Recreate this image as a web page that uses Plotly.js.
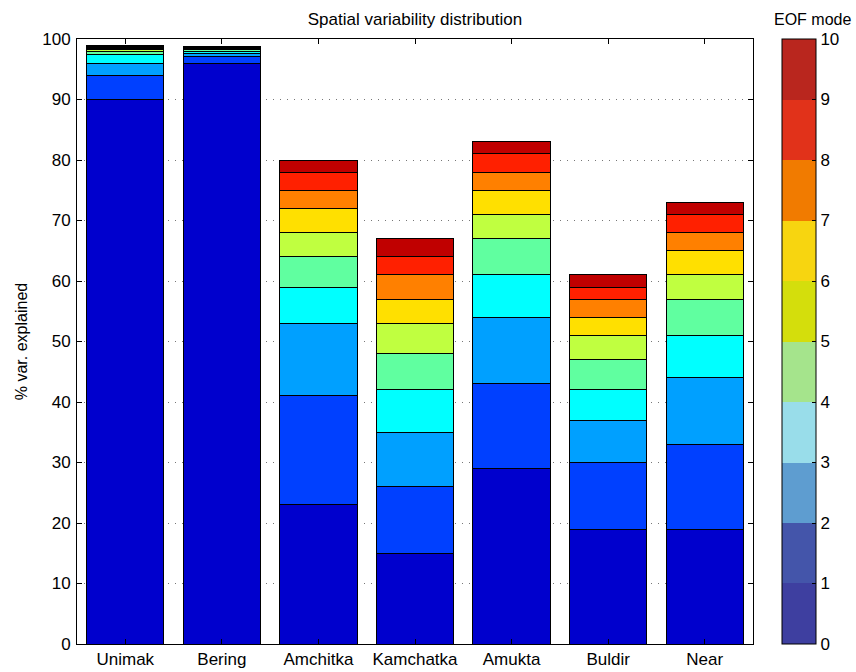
<!DOCTYPE html>
<html>
<head>
<meta charset="utf-8">
<script src="https://cdn.plot.ly/plotly-3.0.1.min.js"></script>
<style>html,body{margin:0;padding:0;background:#fff;}#chart{width:856px;height:672px;}</style>
</head>
<body>
<div id="chart"></div>
<script>
// Categories (regions)
const regions = ["Unimak", "Bering", "Amchitka", "Kamchatka", "Amukta", "Buldir", "Near"];

// Percent variance explained by each EOF mode (mode 1..10), per region
const mode1  = [90.0, 96.0, 23, 15, 29, 19, 19];
const mode2  = [4.0,  1.1, 18, 11, 14, 11, 14];
const mode3  = [2.0,  0.5, 12,  9, 11,  7, 11];
const mode4  = [1.5,  0.4,  6,  7,  7,  5,  7];
const mode5  = [0.4,  0.3,  5,  6,  6,  5,  6];
const mode6  = [0.3,  0.2,  4,  5,  4,  4,  4];
const mode7  = [0.2,  0.1,  4,  4,  4,  3,  4];
const mode8  = [0.2,  0.1,  3,  4,  3,  3,  3];
const mode9  = [0.1,  0.05, 3,  3,  3,  2,  3];
const mode10 = [0.3,  0.05, 2,  3,  2,  2,  2];
const modes = [mode1, mode2, mode3, mode4, mode5, mode6, mode7, mode8, mode9, mode10];

// Axis / colorbar tick labels
const yTicks = [0,10,20,30,40,50,60,70,80,90,100];
const cbTicks = [0,1,2,3,4,5,6,7,8,9,10];

// Styles
const barColors = ["rgb(0,0,205)","rgb(0,64,255)","rgb(0,160,255)","rgb(0,255,255)","rgb(96,255,160)",
                   "rgb(192,255,64)","rgb(255,224,0)","rgb(255,128,0)","rgb(255,32,0)","rgb(192,0,0)"];
const cbColors = ["#3e3fa0","#4455aa","#5e9dd0","#99ddea","#a5e48c",
                  "#d4de0c","#f7d510","#f17b00","#e1321a","#b9261e"];

const FONT = "Liberation Sans, Arial, Helvetica, sans-serif";
const FS = 17;

const traces = modes.map((vals, i) => ({
  type: "bar",
  x: regions,
  y: vals,
  name: "Mode " + (i + 1),
  marker: { color: barColors[i], line: { color: "#000", width: 1 } },
  width: 0.8,
  showlegend: false,
  hoverinfo: "x+y+name"
}));

// discrete colorscale for colorbar
const cs = [];
cbColors.forEach((c, i) => { cs.push([i / 10, c]); cs.push([(i + 1) / 10, c]); });

traces.push({
  type: "scatter",
  mode: "markers",
  x: [regions[0]],
  y: [null],
  showlegend: false,
  hoverinfo: "skip",
  marker: {
    color: [0],
    cmin: 0, cmax: 10,
    colorscale: cs,
    showscale: true,
    colorbar: {
      x: (782 - 77) / 676, xanchor: "left", xpad: 0,
      y: 0.5, yanchor: "middle", ypad: 0,
      len: 1, lenmode: "fraction",
      thickness: 34, thicknessmode: "pixels",
      outlinecolor: "#000", outlinewidth: 1,
      tickmode: "array", tickvals: cbTicks, ticktext: cbTicks.map(String),
      ticks: "inside", ticklen: 4, tickcolor: "#000",
      tickfont: { family: FONT, size: FS, color: "#000" }
    }
  }
});

const layout = {
  width: 856, height: 672,
  margin: { l: 77, r: 103, t: 39, b: 28, pad: 0 },
  paper_bgcolor: "#fff", plot_bgcolor: "#fff",
  barmode: "stack",
  font: { family: FONT, size: FS, color: "#000" },
  title: {
    text: "Spatial variability distribution",
    font: { family: FONT, size: FS, color: "#000" },
    x: (77 + 753) / 2 / 856, xanchor: "center",
    y: 1 - 19 / 672, yanchor: "middle"
  },
  xaxis: {
    type: "category",
    range: [-0.5, 6.5],
    showline: true, linecolor: "#000", linewidth: 1, mirror: "ticks",
    ticks: "inside", ticklen: 5, tickcolor: "#000",
    showgrid: false, zeroline: false,
    tickfont: { family: FONT, size: FS, color: "#000" }
  },
  yaxis: {
    range: [0, 100],
    tickvals: yTicks,
    showline: true, linecolor: "#000", linewidth: 1, mirror: "ticks",
    ticks: "inside", ticklen: 5, tickcolor: "#000",
    ticklabelstandoff: 2,
    showgrid: true, gridcolor: "#777", griddash: "1px,6px", gridwidth: 1,
    zeroline: false,
    tickfont: { family: FONT, size: FS, color: "#000" },
    title: { text: "% var. explained", font: { family: FONT, size: 16, color: "#000" }, standoff: 10 }
  },
  annotations: [{
    text: "EOF mode", xref: "paper", yref: "paper",
    x: (812 - 77) / 676, y: 1 + (39 - 19) / 605, yanchor: "middle", xanchor: "center",
    showarrow: false, font: { family: FONT, size: 16, color: "#000" }
  }]
};

Plotly.newPlot("chart", traces, layout, { displayModeBar: false, staticPlot: true });
</script>
</body>
</html>
